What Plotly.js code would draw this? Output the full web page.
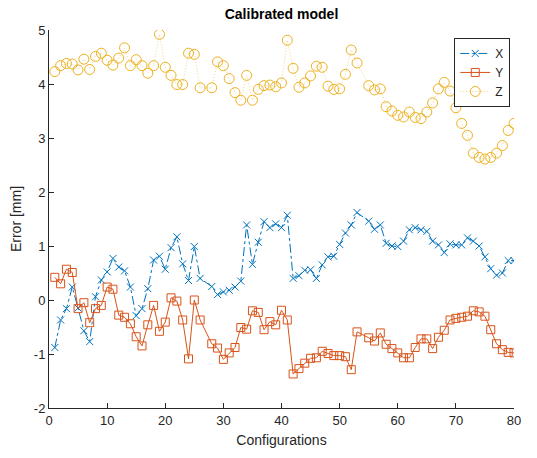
<!DOCTYPE html>
<html>
<head>
<meta charset="utf-8">
<script src="https://cdn.plot.ly/plotly-3.0.1.min.js"></script>
<style>
  html, body { margin: 0; padding: 0; background: #fff; }
  #chart { width: 537px; height: 458px; }
</style>
</head>
<body>
<div id="chart"></div>
<script>
// Configuration numbers that were measured
const configs = [
  1, 2, 3, 4, 5, 6, 7, 8, 9, 10, 11, 12, 13, 14, 15, 16, 17, 18, 19, 20,
  21, 22, 23, 24, 25, 26, 28, 29, 30, 31, 32, 33, 34, 35, 36, 37, 38, 39, 40, 41,
  42, 43, 44, 45, 46, 47, 48, 49, 50, 51, 52, 53, 55, 56, 57, 58, 59, 60, 61, 62,
  63, 64, 65, 66, 67, 68, 69, 70, 71, 72, 73, 74, 75, 76, 77, 78, 79, 80
];

// Position error per axis [mm]
const errX = [
  -0.88, -0.37, -0.16, 0.24, -0.15, -0.57, -0.77, 0.06, 0.37, 0.52,
  0.77, 0.61, 0.54, 0.24, -0.29, -0.16, 0.21, 0.74, 0.81, 0.57,
  0.97, 1.17, 0.67, 0.36, 0.99, 0.40, 0.25, 0.10, 0.15, 0.18,
  0.24, 0.35, 1.39, 0.66, 1.07, 1.45, 1.34, 1.41, 1.34, 1.57,
  0.40, 0.45, 0.55, 0.56, 0.40, 0.65, 0.80, 0.81, 1.03, 1.24,
  1.39, 1.62, 1.46, 1.31, 1.39, 1.05, 1.00, 0.99, 1.09, 1.30,
  1.34, 1.30, 1.27, 1.09, 1.02, 0.88, 1.04, 1.02, 1.02, 1.15,
  1.09, 1.00, 0.80, 0.58, 0.46, 0.50, 0.73, 0.73
];
const errY = [
  0.42, 0.30, 0.57, 0.51, -0.16, -0.05, -0.42, -0.16, -0.10, 0.24,
  0.20, -0.28, -0.32, -0.44, -0.68, -0.85, -0.46, -0.10, -0.58, -0.41,
  0.04, -0.02, -0.37, -1.09, 0.00, -0.37, -0.81, -0.89, -1.10, -0.98,
  -0.88, -0.51, -0.54, -0.20, -0.23, -0.55, -0.40, -0.46, -0.19, -0.37,
  -1.37, -1.27, -1.17, -1.08, -1.07, -0.95, -0.99, -1.03, -1.03, -1.05,
  -1.29, -0.59, -0.70, -0.76, -0.61, -0.82, -0.90, -0.98, -1.07, -1.07,
  -0.88, -0.72, -0.72, -0.90, -0.69, -0.56, -0.37, -0.34, -0.32, -0.30,
  -0.20, -0.22, -0.30, -0.55, -0.81, -0.92, -0.97, -0.98
];
const errZ = [
  4.23, 4.34, 4.38, 4.37, 4.26, 4.46, 4.27, 4.51, 4.57, 4.44,
  4.35, 4.48, 4.67, 4.34, 4.45, 4.34, 4.20, 4.34, 4.92, 4.31,
  4.16, 3.99, 3.99, 4.57, 4.55, 3.93, 3.93, 4.41, 4.34, 4.10,
  3.84, 3.70, 4.16, 3.70, 3.90, 3.97, 3.98, 3.95, 4.02, 4.81,
  4.29, 3.94, 4.02, 4.15, 4.33, 4.31, 3.96, 3.90, 3.91, 4.18,
  4.63, 4.39, 3.97, 3.89, 3.91, 3.58, 3.50, 3.42, 3.39, 3.48,
  3.38, 3.36, 3.48, 3.65, 3.91, 4.03, 3.87, 3.56, 3.27, 3.05,
  2.72, 2.64, 2.61, 2.64, 2.72, 2.86, 3.14, 3.27
];

const seriesNames = ['X', 'Y', 'Z'];
const xTicks = [0, 10, 20, 30, 40, 50, 60, 70, 80];
const yTicks = [-2, -1, 0, 1, 2, 3, 4, 5];

const ink = '#262626';
const font = 'Liberation Sans, Arial, Helvetica, sans-serif';

const traces = [
  {
    x: configs, y: errX, name: seriesNames[0], type: 'scatter', mode: 'lines+markers',
    line: { color: '#0072BD', width: 1, dash: 'dashdot' },
    marker: { symbol: 'x-thin-open', size: 7, color: '#0072BD', line: { color: '#0072BD', width: 1 } }
  },
  {
    x: configs, y: errY, name: seriesNames[1], type: 'scatter', mode: 'lines+markers',
    line: { color: '#D95319', width: 1 },
    marker: { symbol: 'square-open', size: 8, color: '#D95319', line: { color: '#D95319', width: 1 } }
  },
  {
    x: configs, y: errZ, name: seriesNames[2], type: 'scatter', mode: 'lines+markers',
    line: { color: 'rgba(237,177,32,0.7)', width: 0.8, dash: '1px,2px' },
    marker: { symbol: 'circle-open', size: 10, color: '#EDB120', line: { color: '#EDB120', width: 1 } }
  }
];

const layout = {
  width: 537, height: 458,
  margin: { l: 49, r: 23, t: 30, b: 50 },
  paper_bgcolor: '#fff', plot_bgcolor: '#fff',
  font: { family: font, color: ink, size: 13 },
  showlegend: true,
  title: {
    text: '<b>Calibrated model</b>',
    font: { family: font, size: 14, color: '#000' },
    xref: 'paper', x: 0.5, xanchor: 'center',
    yref: 'container', y: 0.97, yanchor: 'middle'
  },
  xaxis: {
    range: [0, 80], tickvals: xTicks, ticktext: xTicks.map(String),
    showline: true, linecolor: ink, linewidth: 1, mirror: false,
    ticks: 'inside', ticklen: 5, tickcolor: ink, tickwidth: 1,
    showgrid: false, zeroline: false,
    tickfont: { family: font, size: 13, color: ink },
    title: { text: 'Configurations', font: { family: font, size: 14, color: ink }, standoff: 8 }
  },
  yaxis: {
    range: [-2, 5], tickvals: yTicks, ticktext: yTicks.map(String),
    showline: true, linecolor: ink, linewidth: 1, mirror: false,
    ticks: 'inside', ticklen: 5, tickcolor: ink, tickwidth: 1,
    showgrid: false, zeroline: false,
    tickfont: { family: font, size: 13, color: ink },
    title: { text: 'Error [mm]', font: { family: font, size: 14, color: ink }, standoff: 8 }
  },
  legend: {
    x: 0.992, xanchor: 'right', y: 0.979, yanchor: 'top',
    bgcolor: '#fff', bordercolor: ink, borderwidth: 1,
    font: { family: font, size: 12, color: ink },
    itemwidth: 30, tracegroupgap: 0
  }
};

Plotly.newPlot('chart', traces, layout, { displayModeBar: false, staticPlot: true });
</script>
</body>
</html>
